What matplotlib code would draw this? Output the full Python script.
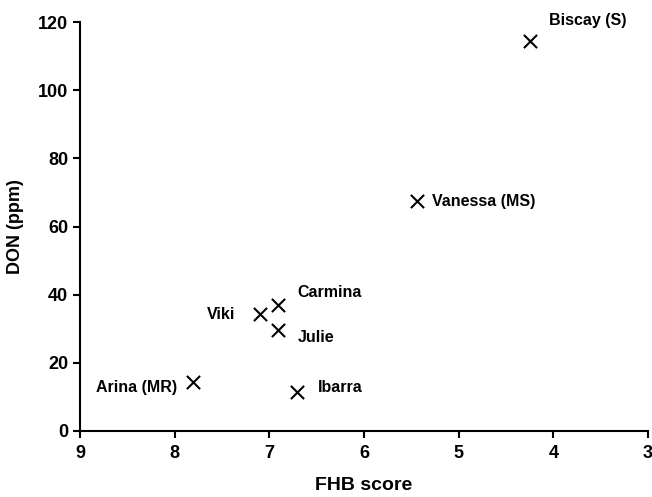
import matplotlib.pyplot as plt

plt.rcParams['font.family'] = ['Liberation Sans', 'DejaVu Sans']
plt.rcParams['font.weight'] = 'bold'

cultivars = ["Biscay (S)", "Vanessa (MS)", "Carmina", "Viki", "Julie", "Arina (MR)", "Ibarra"]
fhb_score = [4.25, 5.44, 6.91, 7.1, 6.91, 7.81, 6.71]
don_ppm = [114.4, 67.4, 37.0, 34.3, 29.6, 14.4, 11.4]

# label offsets in points (dx, dy, ha)
offsets = {
    "Biscay (S)": (14, 15, "left"),
    "Vanessa (MS)": (11, 0, "left"),
    "Carmina": (14, 9, "left"),
    "Viki": (-18, 0, "right"),
    "Julie": (14, -5, "left"),
    "Arina (MR)": (-11, -4, "right"),
    "Ibarra": (15, 3, "left"),
}

fig = plt.figure(figsize=(6.52, 4.97), dpi=100)
ax = fig.add_axes([0.1227, 0.1328, 0.8713, 0.8229])

ax.scatter(fhb_score, don_ppm, marker="x", s=90, c="black", linewidths=1.5, zorder=3)
for name, x, y in zip(cultivars, fhb_score, don_ppm):
    dx, dy, ha = offsets[name]
    ax.annotate(name, (x, y), xytext=(dx, dy), textcoords="offset points",
                ha=ha, va="center", fontsize=11.5, fontweight="bold")

ax.set_xlim(9, 3)
ax.set_ylim(0, 120)
ax.set_xticks([9, 8, 7, 6, 5, 4, 3])
ax.set_yticks(range(0, 121, 20))
ax.spines["top"].set_visible(False)
ax.spines["right"].set_visible(False)
ax.spines["left"].set_linewidth(1.5)
ax.spines["bottom"].set_linewidth(1.5)
ax.tick_params(direction="out", width=1.5, length=5, labelsize=13)
for lab in ax.get_xticklabels() + ax.get_yticklabels():
    lab.set_fontweight("bold")
ax.tick_params(axis="x", pad=5)
ax.set_xlabel("FHB score", fontsize=14, fontweight="bold", labelpad=11)
ax.set_ylabel("DON (ppm)", fontsize=13, fontweight="bold", labelpad=10)

fig.savefig("out.png", dpi=100)
